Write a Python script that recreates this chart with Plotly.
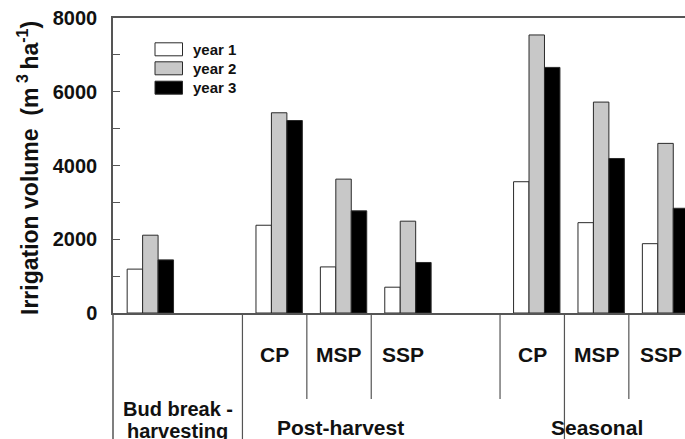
import plotly.graph_objects as go

# ---------------- data ----------------
groups = ["Bud break - harvesting", "Post-harvest CP", "Post-harvest MSP", "Post-harvest SSP",
          "Seasonal CP", "Seasonal MSP", "Seasonal SSP"]
positions = [0, 2, 3, 4, 6, 7, 8]
year1 = [1190, 2380, 1250, 700, 3560, 2450, 1880]
year2 = [2110, 5430, 3630, 2490, 7540, 5720, 4600]
year3 = [1440, 5220, 2770, 1370, 6660, 4190, 2840]
series_names = ["year 1", "year 2", "year 3"]
sub_labels = ["CP", "MSP", "SSP", "CP", "MSP", "SSP"]
y_ticks = [0, 2000, 4000, 6000, 8000]

# ---------------- styling / layout ----------------
W, H = 685, 439
ML, MR, MT, MB = 113, 0, 18, 126
PW, PH = W - ML - MR, H - MT - MB
FONT = "Arial, Liberation Sans, sans-serif"
fills = ["#ffffff", "#c8c8c8", "#000000"]
OUT = "#2a2a2a"
AX = "#555555"
TXT = "#111111"

def py(ypx):  # pixel row -> paper y
    return (H - MB - ypx) / PH

def px(xpx):  # pixel column -> paper x
    return (xpx - ML) / PW

fig = go.Figure()
for name, vals, col in zip(series_names, [year1, year2, year3], fills):
    fig.add_trace(go.Bar(x=positions, y=vals, name=name, marker=dict(color=col, line=dict(color=OUT, width=1)),
                         showlegend=False, hoverinfo="skip"))

x_lo = -0.58
x_hi = x_lo + PW / 64.4

shapes = []
annotations = []

# table lines below axis
boundaries = [p - 0.57 for p in positions[1:]]
full_lines = [boundaries[0], boundaries[4]]
for b in boundaries:
    y1 = py(H) if b in full_lines else py(399)
    shapes.append(dict(type="line", xref="x", yref="paper", x0=b, x1=b, y0=0, y1=y1,
                       line=dict(color=AX, width=1.2)))
shapes.append(dict(type="line", xref="paper", yref="paper", x0=0, x1=0, y0=0, y1=py(H),
                   line=dict(color=AX, width=1.5)))

# sub labels
for p, lab in zip(positions[1:], sub_labels):
    annotations.append(dict(x=p - 0.07, y=py(354), xref="x", yref="paper", text=lab, showarrow=False,
                            font=dict(family=FONT, size=21, color=TXT, weight="bold"),
                            xanchor="center", yanchor="middle"))
# group labels
bud_x = (x_lo + boundaries[0]) / 2
for line_text, yc in zip(["Bud break -", "harvesting"], [409, 431]):
    annotations.append(dict(x=bud_x, y=py(yc), xref="x", yref="paper",
                            text=line_text, showarrow=False, align="center",
                            font=dict(family=FONT, size=20, color=TXT, weight="bold"),
                            xanchor="center", yanchor="middle"))
annotations.append(dict(x=positions[2] - 0.04, y=py(427), xref="x", yref="paper", text="Post-harvest",
                        showarrow=False, font=dict(family=FONT, size=21, color=TXT, weight="bold"),
                        xanchor="center", yanchor="middle"))
annotations.append(dict(x=positions[5] - 0.07, y=py(427), xref="x", yref="paper", text="Seasonal",
                        showarrow=False, font=dict(family=FONT, size=21, color=TXT, weight="bold"),
                        xanchor="center", yanchor="middle"))

# y title
annotations.append(dict(x=px(28), y=py(168), xref="paper", yref="paper",
                        text="Irrigation volume  (m<sup> 3 </sup>ha<sup>-1</sup>)", textangle=-90,
                        showarrow=False, font=dict(family=FONT, size=23, color=TXT, weight="bold"),
                        xanchor="center", yanchor="middle"))

# manual legend
rows = [49.3, 68.3, 87.7]
for name, col, yc in zip(series_names, fills, rows):
    shapes.append(dict(type="rect", xref="paper", yref="paper", x0=px(155), x1=px(182.5),
                       y0=py(yc - 6.5), y1=py(yc + 6.5), fillcolor=col, line=dict(color=OUT, width=1)))
    annotations.append(dict(x=px(191), y=py(yc), xref="paper", yref="paper", text=name, showarrow=False,
                            font=dict(family=FONT, size=15, color=TXT, weight="bold"),
                            xanchor="left", yanchor="middle"))

fig.update_layout(
    width=W, height=H, margin=dict(l=ML, r=MR, t=MT, b=MB),
    paper_bgcolor="white", plot_bgcolor="white",
    barmode="group", bargap=0.28, bargroupgap=0,
    shapes=shapes, annotations=annotations, showlegend=False,
    xaxis=dict(range=[x_lo, x_hi], showticklabels=False, ticks="", showgrid=False, zeroline=False,
               showline=True, mirror=True, linecolor=AX, linewidth=1.5),
    yaxis=dict(range=[0, 8000], tickvals=y_ticks, ticks="inside", ticklen=7, tickcolor=AX, tickwidth=1,
               minor=dict(dtick=1000, ticks="inside", ticklen=7, tickcolor=AX, tickwidth=1),
               showgrid=False, zeroline=False, showline=True, linecolor=AX, linewidth=1.5,
               tickfont=dict(family=FONT, size=20, color=TXT, weight="bold"), ticklabelstandoff=10),
)

fig.write_html("out.html", config={"displayModeBar": False},
               post_script="document.body.style.margin='0';document.body.style.overflow='hidden';")
